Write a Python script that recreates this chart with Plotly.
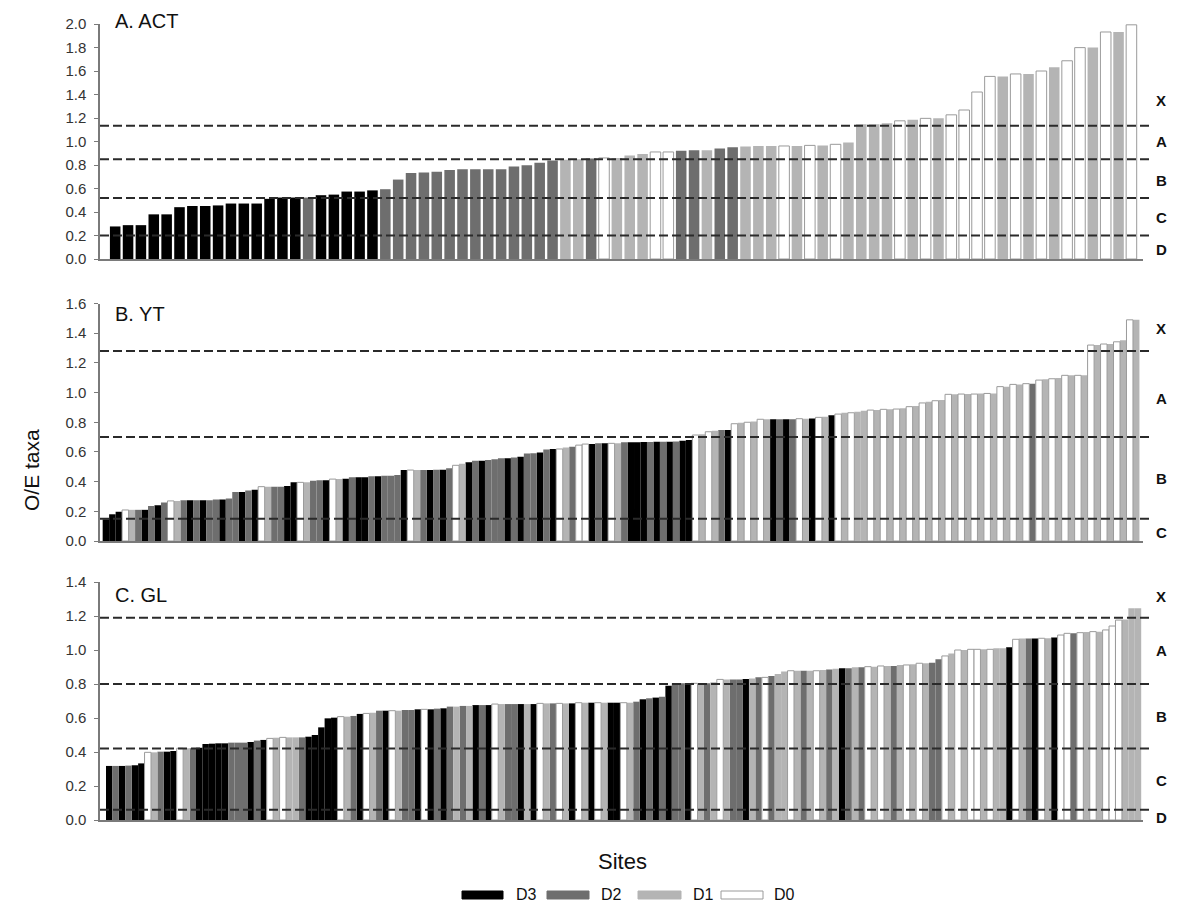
import plotly.graph_objects as go

# ---------------- data ----------------
class_names = ["D3", "D2", "D1", "D0"]
class_fill = {"D3": "#000000", "D2": "#6e6e6e", "D1": "#b4b4b4", "D0": "#ffffff"}

# Panel A. ACT (80 sites, sorted by O/E)
act_values = [0.277, 0.288, 0.288, 0.380, 0.380, 0.441, 0.451, 0.451, 0.456, 0.472,
              0.472, 0.472, 0.512, 0.523, 0.523, 0.523, 0.543, 0.548, 0.574, 0.574,
              0.584, 0.594, 0.676, 0.732, 0.737, 0.742, 0.757, 0.763, 0.763, 0.763,
              0.763, 0.788, 0.798, 0.819, 0.839, 0.844, 0.849, 0.855, 0.860, 0.860,
              0.880, 0.893, 0.911, 0.911, 0.921, 0.926, 0.926, 0.941, 0.952, 0.957,
              0.962, 0.962, 0.962, 0.962, 0.967, 0.967, 0.976, 0.992, 1.146, 1.146,
              1.156, 1.176, 1.186, 1.197, 1.197, 1.227, 1.268, 1.421, 1.554, 1.554,
              1.575, 1.575, 1.600, 1.631, 1.687, 1.799, 1.799, 1.932, 1.932, 1.993]
act_class = [3, 3, 3, 3, 3, 3, 3, 3, 3, 3,
             3, 3, 3, 3, 3, 2, 3, 3, 3, 3,
             3, 2, 2, 2, 2, 2, 2, 2, 2, 2,
             2, 2, 2, 2, 2, 1, 1, 2, 0, 1,
             1, 1, 0, 0, 2, 2, 1, 2, 2, 1,
             1, 1, 0, 1, 0, 1, 0, 1, 1, 1,
             1, 0, 1, 0, 1, 0, 0, 0, 0, 1,
             0, 1, 0, 1, 0, 0, 1, 0, 1, 0]

# Panel B. YT (160 sites)
yt_values = [0.146, 0.18, 0.197, 0.209, 0.21, 0.21, 0.21, 0.235, 0.24, 0.26,
             0.27, 0.27, 0.275, 0.275, 0.275, 0.275, 0.275, 0.28, 0.28, 0.287,
             0.33, 0.33, 0.34, 0.345, 0.366, 0.366, 0.366, 0.366, 0.37, 0.395,
             0.395, 0.395, 0.406, 0.41, 0.41, 0.417, 0.417, 0.42, 0.43, 0.43,
             0.43, 0.437, 0.437, 0.44, 0.44, 0.445, 0.478, 0.478, 0.478, 0.478,
             0.478, 0.48, 0.48, 0.49, 0.51, 0.52, 0.53, 0.54, 0.54, 0.545,
             0.55, 0.557, 0.557, 0.563, 0.568, 0.59, 0.592, 0.597, 0.617, 0.62,
             0.62, 0.63, 0.635, 0.646, 0.653, 0.653, 0.658, 0.658, 0.658, 0.658,
             0.665, 0.665, 0.665, 0.667, 0.667, 0.669, 0.669, 0.669, 0.67, 0.675,
             0.68, 0.714, 0.72, 0.736, 0.743, 0.747, 0.747, 0.79, 0.797, 0.80,
             0.805, 0.82, 0.82, 0.82, 0.82, 0.82, 0.82, 0.824, 0.824, 0.826,
             0.833, 0.837, 0.848, 0.855, 0.864, 0.864, 0.871, 0.878, 0.882, 0.882,
             0.887, 0.887, 0.889, 0.894, 0.905, 0.91, 0.93, 0.938, 0.945, 0.95,
             0.988, 0.988, 0.99, 0.99, 0.99, 0.994, 0.994, 0.994, 1.04, 1.04,
             1.055, 1.055, 1.06, 1.06, 1.084, 1.089, 1.093, 1.098, 1.116, 1.116,
             1.116, 1.116, 1.32, 1.32, 1.327, 1.327, 1.342, 1.353, 1.49, 1.49]
yt_class = [3, 3, 3, 0, 1, 2, 3, 2, 3, 2,
            0, 1, 2, 3, 2, 3, 2, 2, 3, 2,
            2, 3, 2, 3, 0, 1, 2, 2, 3, 3,
            0, 1, 2, 2, 3, 0, 1, 3, 2, 3,
            3, 2, 3, 2, 2, 2, 3, 0, 1, 2,
            3, 2, 3, 2, 0, 1, 3, 2, 3, 2,
            2, 2, 3, 2, 3, 2, 2, 3, 2, 3,
            0, 1, 2, 0, 0, 3, 2, 3, 0, 1,
            2, 3, 3, 3, 2, 3, 2, 3, 2, 3,
            3, 0, 1, 0, 1, 2, 3, 0, 1, 0,
            1, 0, 1, 3, 2, 3, 2, 0, 1, 3,
            0, 1, 3, 0, 1, 0, 1, 1, 0, 1,
            0, 1, 0, 1, 0, 1, 0, 1, 0, 1,
            0, 1, 0, 1, 0, 1, 0, 1, 0, 1,
            0, 1, 0, 2, 0, 1, 0, 1, 0, 1,
            0, 1, 0, 1, 0, 1, 0, 1, 0, 1]

# Panel C. GL (161 sites)
gl_values = [0.318, 0.318, 0.318, 0.32, 0.322, 0.333, 0.398, 0.398, 0.402, 0.402,
             0.406, 0.422, 0.422, 0.422, 0.425, 0.447, 0.449, 0.451, 0.451, 0.455,
             0.455, 0.455, 0.459, 0.467, 0.471, 0.48, 0.484, 0.486, 0.486, 0.486,
             0.486, 0.49, 0.50, 0.545, 0.598, 0.602, 0.608, 0.608, 0.612, 0.624,
             0.627, 0.631, 0.643, 0.643, 0.643, 0.643, 0.647, 0.647, 0.651, 0.651,
             0.651, 0.655, 0.657, 0.667, 0.667, 0.671, 0.671, 0.676, 0.676, 0.676,
             0.682, 0.682, 0.682, 0.682, 0.682, 0.682, 0.682, 0.686, 0.686, 0.686,
             0.686, 0.686, 0.686, 0.69, 0.69, 0.69, 0.69, 0.69, 0.69, 0.69,
             0.69, 0.69, 0.696, 0.71, 0.716, 0.72, 0.725, 0.79, 0.804, 0.804,
             0.804, 0.804, 0.804, 0.804, 0.81, 0.827, 0.827, 0.827, 0.827, 0.829,
             0.833, 0.839, 0.839, 0.847, 0.859, 0.873, 0.878, 0.878, 0.878, 0.878,
             0.878, 0.882, 0.886, 0.89, 0.892, 0.892, 0.898, 0.898, 0.902, 0.902,
             0.906, 0.906, 0.906, 0.912, 0.912, 0.916, 0.922, 0.922, 0.925, 0.945,
             0.965, 0.98, 1.0, 1.0, 1.004, 1.004, 1.004, 1.004, 1.01, 1.01,
             1.016, 1.063, 1.067, 1.067, 1.067, 1.069, 1.069, 1.073, 1.088, 1.098,
             1.098, 1.102, 1.106, 1.108, 1.108, 1.118, 1.141, 1.176, 1.18, 1.245,
             1.245]
gl_class = [3, 2, 3, 2, 3, 3, 0, 1, 2, 3,
            3, 0, 1, 2, 3, 3, 3, 3, 3, 2,
            2, 2, 3, 2, 3, 0, 1, 0, 1, 1,
            2, 3, 3, 3, 3, 3, 0, 1, 2, 3,
            0, 1, 2, 3, 0, 1, 2, 2, 3, 0,
            3, 2, 3, 2, 1, 2, 1, 3, 2, 3,
            0, 1, 2, 2, 3, 1, 3, 0, 1, 2,
            0, 1, 3, 0, 1, 3, 0, 1, 3, 3,
            0, 1, 2, 3, 2, 3, 2, 3, 2, 2,
            3, 0, 1, 2, 1, 0, 1, 2, 2, 3,
            1, 2, 0, 2, 1, 1, 0, 1, 2, 1,
            0, 1, 2, 1, 3, 2, 1, 2, 0, 1,
            0, 1, 2, 1, 0, 1, 0, 1, 2, 2,
            0, 1, 0, 1, 0, 0, 1, 0, 1, 1,
            3, 0, 1, 2, 3, 0, 1, 3, 0, 0,
            2, 0, 1, 0, 1, 0, 0, 0, 1, 1,
            1]

# Band thresholds and band labels
act_thresholds = [1.135, 0.85, 0.52, 0.20]
yt_thresholds = [1.28, 0.70, 0.15]
gl_thresholds = [1.19, 0.80, 0.42, 0.06]
act_bands = ["X", "A", "B", "C", "D"]
yt_bands = ["X", "A", "B", "C"]
gl_bands = ["X", "A", "B", "C", "D"]

panel_titles = ["A. ACT", "B. YT", "C. GL"]

# ---------------- layout helpers ----------------
# the page body adds an 8px margin, so the figure is sized to fit the window
OFF = 8
W, H = 1178 - 2 * OFF, 913 - 2 * OFF
ML = 100 - OFF
MR = W - (1143 - OFF)
PW = W - ML - MR


def px_x(px):
    return (px - OFF - ML) / PW


def px_y(py):
    return 1 - (py - OFF) / H


FONT = "Liberation Sans, Arial, sans-serif"
AXIS_GREY = "#7a7a7a"

panels = [
    dict(values=act_values, cls=act_class, thr=act_thresholds, bands=act_bands,
         band_y=[1.345, 1.0, 0.672, 0.357, 0.085], yrange=[0, 2.0],
         ypix=(259, 24), xrange=[-1.18, 79.9], width=0.82, title_y=21),
    dict(values=yt_values, cls=yt_class, thr=yt_thresholds, bands=yt_bands,
         band_y=[1.434, 0.963, 0.424, 0.054], yrange=[0, 1.6],
         ypix=(541, 303.5), xrange=[-0.91, 160.05], width=1.0, title_y=314),
    dict(values=gl_values, cls=gl_class, thr=gl_thresholds, bands=gl_bands,
         band_y=[1.312, 1.0, 0.606, 0.235, 0.012], yrange=[0, 1.4],
         ypix=(820, 582), xrange=[-1.43, 160.78], width=1.0, title_y=595),
]

fig = go.Figure()
shapes = []
annotations = []

for p_i, p in enumerate(panels):
    sfx = "" if p_i == 0 else str(p_i + 1)
    xa, ya = "x" + sfx, "y" + sfx
    for code, name in zip([3, 2, 1, 0], class_names):
        xs = [i for i, c in enumerate(p["cls"]) if c == code]
        ys = [p["values"][i] for i in xs]
        fig.add_trace(go.Bar(
            x=xs, y=ys, name=name, xaxis=xa, yaxis=ya, width=p["width"],
            marker=dict(color=class_fill[name],
                        line=dict(color="#9a9a9a" if name == "D0" else class_fill[name],
                                  width=1 if name == "D0" else 0)),
            showlegend=False, hoverinfo="x+y+name"))
    # threshold lines
    for t in p["thr"]:
        shapes.append(dict(type="line", xref="paper", x0=0, x1=px_x(1153),
                           yref=ya, y0=t, y1=t, layer="above",
                           line=dict(color="#2a2a2a", width=2, dash="9px,4px")))
    # band labels
    for lab, yv in zip(p["bands"], p["band_y"]):
        annotations.append(dict(text="<b>%s</b>" % lab, xref="paper", x=px_x(1161),
                                yref=ya, y=yv, showarrow=False, xanchor="center",
                                yanchor="middle",
                                font=dict(family=FONT, size=15, color="#111")))
    # panel title
    annotations.append(dict(text=panel_titles[p_i], xref="paper", x=px_x(113),
                            yref="paper", y=px_y(p["title_y"]), showarrow=False,
                            xanchor="left", yanchor="middle",
                            font=dict(family=FONT, size=20, color="#111")))
    ybot, ytop = p["ypix"]
    fig.layout["xaxis" + sfx] = dict(
        domain=[0, 1], anchor=ya, range=p["xrange"], showticklabels=False,
        ticks="", showgrid=False, zeroline=False, showline=True,
        linecolor=AXIS_GREY, linewidth=1.5)
    fig.layout["yaxis" + sfx] = dict(
        domain=[px_y(ybot), px_y(ytop)], anchor=xa, range=p["yrange"],
        dtick=0.2, tick0=0, tickformat=".1f", ticks="outside", ticklen=4,
        tickcolor=AXIS_GREY, tickwidth=1, showgrid=False, zeroline=False,
        showline=True, linecolor=AXIS_GREY, linewidth=1.5, ticklabelstandoff=5,
        tickfont=dict(family=FONT, size=15, color="#333"))

# axis titles
annotations.append(dict(text="O/E taxa", xref="paper", x=px_x(31), yref="paper",
                        y=px_y(470), showarrow=False, textangle=-90,
                        xanchor="center", yanchor="middle",
                        font=dict(family=FONT, size=21, color="#111")))
annotations.append(dict(text="Sites", xref="paper", x=px_x(622), yref="paper",
                        y=px_y(861), showarrow=False, xanchor="center",
                        yanchor="middle",
                        font=dict(family=FONT, size=22, color="#111")))

# legend (swatch + label), kept just inside the bottom edge of the page
legend_swatch_px = [(462, 503), (547, 589), (638, 681), (721, 763)]
legend_text_px = [514, 599, 691, 772]
for name, (x0, x1), tx in zip(class_names, legend_swatch_px, legend_text_px):
    shapes.append(dict(type="rect", xref="paper", yref="paper",
                       x0=px_x(x0), x1=px_x(x1), y0=px_y(899), y1=px_y(891),
                       fillcolor=class_fill[name],
                       line=dict(color="#9a9a9a" if name == "D0" else class_fill[name],
                                 width=1)))
    annotations.append(dict(text=name, xref="paper", x=px_x(tx), yref="paper",
                            y=px_y(894), showarrow=False, xanchor="left",
                            yanchor="middle",
                            font=dict(family=FONT, size=16, color="#111")))

fig.update_layout(
    width=W, height=H, margin=dict(l=ML, r=MR, t=0, b=0, autoexpand=False),
    barmode="overlay", plot_bgcolor="white", paper_bgcolor="white",
    shapes=shapes, annotations=annotations, showlegend=False,
    font=dict(family=FONT),
)

fig.write_html("out.html")
